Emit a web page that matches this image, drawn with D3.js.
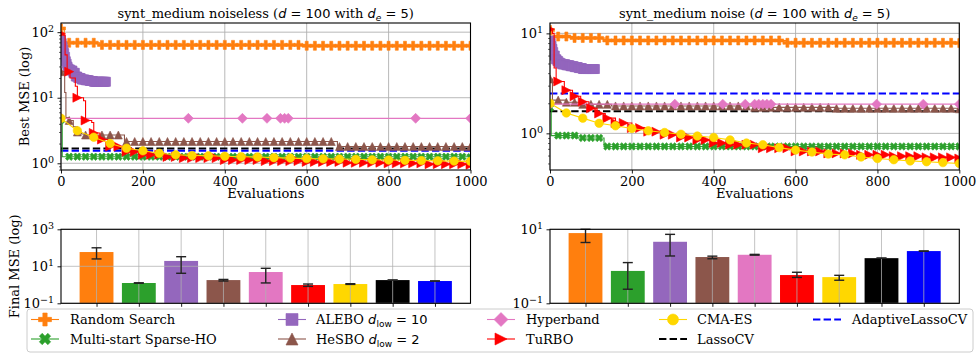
<!DOCTYPE html>
<html lang="en">
<head>
<meta charset="UTF-8">
<title>synt_medium: best MSE and final MSE</title>
<script src="https://d3js.org/d3.v7.min.js"></script>
<style>
  body { margin: 0; background: #fff; }
  svg { display: block; font-family: "DejaVu Serif", serif; }
  text { white-space: pre; }
</style>
</head>
<body>
<div id="chart"></div>
<script>
  // ---- data ----
  const evalTicks = [0, 200, 400, 600, 800, 1000];
  const methods = ["Random Search", "Multi-start Sparse-HO", "ALEBO", "HeSBO", "Hyperband",
    "TuRBO", "CMA-ES", "LassoCV", "AdaptiveLassoCV"];

  // noiseless: [evaluation, best MSE]
  const noiselessRandom = [[0, 114], [8, 69], [95, 64], [600, 62], [1000, 62]];
  const noiselessMulti = [[0, 4.6], [3, 1.26], [1000, 1.24]];
  const noiselessAlebo = [[0, 76], [2, 68], [4, 60], [6, 54], [8, 48], [10, 42], [12, 36], [14, 33],
    [16, 30], [18, 28], [20, 27], [24, 26], [30, 24], [36, 21], [42, 20], [50, 19], [60, 18.5],
    [70, 18], [80, 17.5], [110, 17.5]];
  const noiselessHesbo = [[0, 25], [6, 25], [9, 12], [12, 5], [20, 4.5], [30, 3.6], [40, 3.0],
    [50, 2.8], [60, 2.7], [155, 2.15], [675, 1.8], [1000, 1.8]];
  const noiselessHyper = [[0, 4.85], [311, 4.85], [443, 4.85], [503, 4.85], [536, 4.85], [546, 4.85],
    [555, 4.85], [866, 4.85], [1000, 4.85]];
  const noiselessTurbo = [[0, 95], [5, 90], [10, 45], [15, 25], [22, 20], [35, 15], [40, 10], [55, 9],
    [60, 4.5], [75, 4.2], [80, 2.9], [95, 2.3], [115, 1.8], [150, 1.5], [190, 1.35], [250, 1.25],
    [300, 1.2], [400, 1.12], [500, 1.08], [600, 1.05], [700, 1.02], [800, 1.0], [900, 0.97], [1000, 0.95]];
  const noiselessCma = [[0, 4.85], [40, 3.14], [80, 2.5], [120, 2.0], [160, 1.7], [200, 1.55],
    [240, 1.42], [280, 1.35], [320, 1.32], [360, 1.3], [400, 1.28], [440, 1.26], [480, 1.25],
    [520, 1.22], [560, 1.2], [600, 1.18], [640, 1.17], [680, 1.16], [720, 1.15], [760, 1.13],
    [800, 1.12], [840, 1.11], [880, 1.1], [920, 1.09], [960, 1.08], [1000, 1.07]];
  const noiselessLasso = 1.68;
  const noiselessAdaptive = 1.55;

  // noise
  const noiseRandom = [[0, 10.8], [5, 9.3], [60, 9.0], [140, 8.5], [580, 8.05], [1000, 8.0]];
  const noiseMulti = [[0, 1.8], [3, 0.95], [68, 0.9], [132, 0.74], [1000, 0.74]];
  const noiseAlebo = [[0, 8.5], [2, 8], [4, 7.5], [6, 7], [8, 6.5], [10, 6], [14, 5.5], [18, 5.3],
    [22, 5.1], [26, 5], [30, 4.9], [40, 4.8], [50, 4.7], [60, 4.6], [70, 4.5], [80, 4.4], [110, 4.4]];
  const noiseHesbo = [[0, 3.5], [6, 2.15], [40, 2.05], [80, 1.95], [150, 1.88], [500, 1.82],
    [700, 1.78], [1000, 1.76]];
  const noiseHyper = [[0, 1.96], [305, 1.96], [422, 1.96], [477, 1.96], [500, 1.96], [510, 1.96],
    [520, 1.96], [530, 1.96], [540, 1.96], [798, 1.96], [912, 1.96], [1000, 1.96]];
  const noiseTurbo = [[0, 11], [6, 10], [10, 4.5], [15, 3.3], [35, 2.7], [55, 2.35], [75, 2.07],
    [95, 1.78], [115, 1.58], [135, 1.42], [160, 1.27], [200, 1.13], [240, 1.04], [280, 0.97],
    [320, 0.91], [360, 0.86], [400, 0.8], [440, 0.77], [520, 0.71], [600, 0.66], [670, 0.63],
    [750, 0.61], [830, 0.59], [910, 0.575], [1000, 0.56]];
  const noiseCma = [[0, 2.0], [40, 1.6], [80, 1.42], [120, 1.26], [160, 1.19], [200, 1.12],
    [240, 1.06], [280, 1.02], [320, 0.98], [360, 0.94], [400, 0.91], [440, 0.86], [480, 0.8],
    [520, 0.77], [560, 0.72], [600, 0.68], [640, 0.65], [680, 0.62], [720, 0.61], [760, 0.58],
    [800, 0.56], [840, 0.545], [880, 0.53], [920, 0.52], [960, 0.51], [1000, 0.5]];
  const noiseLasso = 1.66;
  const noiseAdaptive = 2.5;

  // final MSE bars (same order as methods)
  const noiselessFinal = [59, 1.25, 19.5, 1.8, 4.9, 0.97, 1.1, 1.8, 1.6];
  const noiselessLow = [25, 1.22, 4.2, 1.6, 1.26, 0.82, 1.05, 1.8, 1.6];
  const noiselessHigh = [100, 1.28, 33, 1.95, 7.8, 1.1, 1.15, 1.8, 1.6];
  const noiseFinal = [7.9, 0.75, 4.6, 1.78, 2.05, 0.58, 0.51, 1.66, 2.58];
  const noiseLow = [4.4, 0.24, 1.9, 1.6, 2.0, 0.5, 0.42, 1.66, 2.55];
  const noiseHigh = [10, 1.26, 7.3, 1.88, 2.1, 0.69, 0.57, 1.66, 2.6];

  // ---- styles ----
  const colors = ["#ff7f0e", "#2ca02c", "#9467bd", "#8c564b", "#e377c2", "#ff0000", "#ffd700", "#000000", "#0000ff"];
  const markers = ["P", "X", "s", "^", "D", ">", "o"];
  const markerSize = [9, 8, 9, 8, 10, 9, 8.5];
  const markEvery = [20, 20, 2, 20, null, 20, 40];
  const stepped = [true, true, true, true, true, true, false];

  const W = 979, H = 354;
  const topY = [23, 170], botY = [229.3, 303.3];
  const panelsX = [[61, 470.5], [550, 959.3]];
  const serif = "DejaVu Serif", sans = "DejaVu Sans";

  const svg = d3.select("#chart").append("svg")
    .attr("width", W).attr("height", H)
    .attr("font-family", serif);

  function markerPath(type, s) {
    const a = s / 2, t = s / 6;
    switch (type) {
      case "P":
      case "X":
        return `M${-t},${-a}L${t},${-a}L${t},${-t}L${a},${-t}L${a},${t}L${t},${t}L${t},${a}L${-t},${a}L${-t},${t}L${-a},${t}L${-a},${-t}L${-t},${-t}Z`;
      case "s": return `M${-a},${-a}h${s}v${s}h${-s}Z`;
      case "^": return `M0,${-a}L${a},${a}L${-a},${a}Z`;
      case ">": return `M${a},0L${-a},${-a}L${-a},${a}Z`;
      case "D": return `M0,${-a}L${a},0L0,${a}L${-a},0Z`;
      default: return d3.arc()({ innerRadius: 0, outerRadius: a, startAngle: 0, endAngle: 2 * Math.PI });
    }
  }

  function addMarker(g, type, s, color, x, y) {
    g.append("path")
      .attr("d", markerPath(type, s))
      .attr("transform", `translate(${x},${y})` + (type === "X" ? " rotate(45)" : ""))
      .attr("fill", color).attr("stroke", color).attr("stroke-width", 0.6);
  }

  function stepAt(pts, x) {
    let v = pts[0][1];
    for (const p of pts) { if (p[0] <= x) v = p[1]; else break; }
    return v;
  }

  function powLabel(sel, exp) {
    sel.append("tspan").text("10");
    sel.append("tspan").attr("dy", "-0.5em").attr("font-size", 9.5).text(exp < 0 ? "\u2212" + (-exp) : exp);
  }

  function minorTicks(domain) {
    const out = [];
    for (let d = Math.floor(Math.log10(domain[0])); d <= Math.ceil(Math.log10(domain[1])); d++) {
      for (let k = 2; k <= 9; k++) {
        const v = k * Math.pow(10, d);
        if (v >= domain[0] && v <= domain[1]) out.push(v);
      }
    }
    return out;
  }

  function drawYAxis(g, y, x0, majors, minors) {
    g.append("g").attr("transform", `translate(${x0},0)`)
      .call(d3.axisLeft(y).tickValues(minors).tickSize(2).tickFormat(""))
      .call(a => a.select(".domain").remove())
      .selectAll("line").attr("stroke", "#000").attr("stroke-width", 0.6);
    g.append("g").attr("transform", `translate(${x0},0)`)
      .call(d3.axisLeft(y).tickValues(majors).tickSize(3.5).tickFormat(""))
      .call(a => a.select(".domain").remove())
      .selectAll("line").attr("stroke", "#000").attr("stroke-width", 0.9);
    majors.forEach(v => {
      const t = g.append("text")
        .attr("x", x0 - 7).attr("y", y(v)).attr("dy", "0.35em")
        .attr("text-anchor", "end").attr("font-family", serif).attr("font-size", 13).attr("fill", "#000");
      powLabel(t, Math.round(Math.log10(v)));
    });
  }

  function title(g, cx, name) {
    const t = g.append("text").attr("x", cx).attr("y", 18)
      .attr("text-anchor", "middle").attr("font-family", serif).attr("font-size", 13);
    t.append("tspan").attr("font-family", serif).text(name + " (");
    t.append("tspan").attr("font-family", sans).attr("font-style", "italic").text("d");
    t.append("tspan").attr("font-family", sans).text(" = 100");
    t.append("tspan").attr("font-family", serif).text(" with ");
    t.append("tspan").attr("font-family", sans).attr("font-style", "italic").text("d");
    t.append("tspan").attr("font-family", sans).attr("font-style", "italic")
      .attr("font-size", 9).attr("dy", 3).text("e");
    t.append("tspan").attr("font-family", sans).attr("dy", -3).text(" = 5");
    t.append("tspan").attr("font-family", serif).text(")");
  }

  function drawTop(idx, name, series, lasso, adaptive, yDomain, yMajors, showYLabel) {
    const [x0, x1] = panelsX[idx];
    const g = svg.append("g");
    const x = d3.scaleLinear().domain([0, 1000]).range([x0, x1]);
    const y = d3.scaleLog().domain(yDomain).range([topY[1], topY[0]]);

    // grid
    g.append("g").selectAll("line").data(evalTicks).join("line")
      .attr("x1", d => x(d)).attr("x2", d => x(d)).attr("y1", topY[0]).attr("y2", topY[1])
      .attr("stroke", "#b0b0b0").attr("stroke-width", 0.9);
    g.append("g").selectAll("line").data(yMajors).join("line")
      .attr("x1", x0).attr("x2", x1).attr("y1", d => y(d)).attr("y2", d => y(d))
      .attr("stroke", "#b0b0b0").attr("stroke-width", 0.9);

    const clipId = "clip-top-" + idx;
    svg.append("clipPath").attr("id", clipId).append("rect")
      .attr("x", x0).attr("y", topY[0]).attr("width", x1 - x0).attr("height", topY[1] - topY[0]);
    const plot = g.append("g").attr("clip-path", `url(#${clipId})`);

    // dashed baselines
    [[lasso, colors[7]], [adaptive, colors[8]]].forEach(([v, c]) => {
      plot.append("line").attr("x1", x0).attr("x2", x1).attr("y1", y(v)).attr("y2", y(v))
        .attr("stroke", c).attr("stroke-width", 2).attr("stroke-dasharray", "7.4,3.2");
    });

    series.forEach((pts, i) => {
      const line = d3.line().x(d => x(d[0])).y(d => y(d[1]))
        .curve(stepped[i] ? d3.curveStepAfter : d3.curveLinear);
      plot.append("path").attr("d", line(pts)).attr("fill", "none")
        .attr("stroke", colors[i]).attr("stroke-width", 1.1);
      const last = pts[pts.length - 1][0];
      const xs = markEvery[i] ? d3.range(0, last + 0.001, markEvery[i]) : pts.map(p => p[0]);
      const mg = plot.append("g");
      xs.forEach(xv => addMarker(mg, markers[i], markerSize[i], colors[i], x(xv), y(stepAt(pts, xv))));
    });

    // spines
    g.append("rect").attr("x", x0).attr("y", topY[0]).attr("width", x1 - x0).attr("height", topY[1] - topY[0])
      .attr("fill", "none").attr("stroke", "#000").attr("stroke-width", 1.1);

    // axes
    g.append("g").attr("transform", `translate(0,${topY[1]})`)
      .call(d3.axisBottom(x).tickValues(evalTicks).tickSize(3.5).tickPadding(3.5).tickFormat(d3.format("d")))
      .call(a => a.select(".domain").remove())
      .attr("font-family", serif).attr("font-size", 13)
      .call(a => a.selectAll("text").attr("fill", "#000"))
      .call(a => a.selectAll("line").attr("stroke", "#000").attr("stroke-width", 0.9));
    drawYAxis(g, y, x0, yMajors, minorTicks(yDomain));

    g.append("text").attr("x", (x0 + x1) / 2).attr("y", 198).attr("text-anchor", "middle")
      .attr("font-family", serif).attr("font-size", 13).text("Evaluations");
    if (showYLabel) {
      g.append("text").attr("transform", `translate(29,${(topY[0] + topY[1]) / 2}) rotate(-90)`)
        .attr("text-anchor", "middle").attr("font-family", serif).attr("font-size", 13).text("Best MSE (log)");
    }
    title(g, (x0 + x1) / 2, name);
  }

  function drawBars(idx, finals, lows, highs, yDomain, yMajors, showYLabel) {
    const [x0, x1] = panelsX[idx];
    const g = svg.append("g");
    const x = d3.scaleLinear().domain([-0.84, 8.84]).range([x0, x1]);
    const y = d3.scaleLog().domain(yDomain).range([botY[1], botY[0]]);
    const idxs = d3.range(methods.length);

    g.append("g").selectAll("rect").data(finals).join("rect")
      .attr("x", (d, i) => x(i - 0.4)).attr("width", (d, i) => x(i + 0.4) - x(i - 0.4))
      .attr("y", d => y(d)).attr("height", d => botY[1] - y(d))
      .attr("fill", (d, i) => colors[i]);

    // grid over bars
    g.append("g").selectAll("line").data(idxs).join("line")
      .attr("x1", d => x(d)).attr("x2", d => x(d)).attr("y1", botY[0]).attr("y2", botY[1])
      .attr("stroke", "#b0b0b0").attr("stroke-opacity", 0.85).attr("stroke-width", 0.9);
    g.append("g").selectAll("line").data(yMajors).join("line")
      .attr("x1", x0).attr("x2", x1).attr("y1", d => y(d)).attr("y2", d => y(d))
      .attr("stroke", "#b0b0b0").attr("stroke-opacity", 0.85).attr("stroke-width", 0.9);

    // error bars
    const eg = g.append("g").attr("stroke", "#222").attr("stroke-width", 1.4);
    idxs.forEach(i => {
      const cx = x(i);
      eg.append("line").attr("x1", cx).attr("x2", cx).attr("y1", y(lows[i])).attr("y2", y(highs[i]));
      [lows[i], highs[i]].forEach(v => {
        eg.append("line").attr("x1", cx - 5).attr("x2", cx + 5).attr("y1", y(v)).attr("y2", y(v));
      });
    });

    g.append("rect").attr("x", x0).attr("y", botY[0]).attr("width", x1 - x0).attr("height", botY[1] - botY[0])
      .attr("fill", "none").attr("stroke", "#000").attr("stroke-width", 1.1);

    g.append("g").attr("transform", `translate(0,${botY[1]})`)
      .call(d3.axisBottom(x).tickValues(idxs).tickSize(3.5).tickFormat(""))
      .call(a => a.select(".domain").remove())
      .call(a => a.selectAll("line").attr("stroke", "#000").attr("stroke-width", 0.9));
    drawYAxis(g, y, x0, yMajors, []);

    if (showYLabel) {
      g.append("text").attr("transform", `translate(19,${(botY[0] + botY[1]) / 2}) rotate(-90)`)
        .attr("text-anchor", "middle").attr("font-family", serif).attr("font-size", 13).text("Final MSE (log)");
    }
  }

  drawTop(0, "synt_medium noiseless",
    [noiselessRandom, noiselessMulti, noiselessAlebo, noiselessHesbo, noiselessHyper, noiselessTurbo, noiselessCma],
    noiselessLasso, noiselessAdaptive, [0.79, 138], [1, 10, 100], true);
  drawTop(1, "synt_medium noise",
    [noiseRandom, noiseMulti, noiseAlebo, noiseHesbo, noiseHyper, noiseTurbo, noiseCma],
    noiseLasso, noiseAdaptive, [0.43, 12.7], [1, 10], false);

  drawBars(0, noiselessFinal, noiselessLow, noiselessHigh, [0.1, 1000], [0.1, 10, 1000], true);
  drawBars(1, noiseFinal, noiseLow, noiseHigh, [0.1, 10], [0.1, 10], false);

  // ---- legend ----
  const lg = svg.append("g");
  lg.append("rect").attr("x", 27).attr("y", 309).attr("width", 946).attr("height", 43).attr("rx", 3)
    .attr("fill", "#fff").attr("fill-opacity", 0.8).attr("stroke", "#cccccc").attr("stroke-width", 1);
  const colHandle = [45, 292, 501, 673, 827];
  const colText = [70, 316, 526, 697, 852];
  const rowY = [319.5, 339];
  const legendMarker = [13, 12, 12, 12, 14, 12, 11];

  methods.forEach((m, i) => {
    const col = Math.floor(i / 2), row = i % 2;
    const cx = colHandle[col], cy = rowY[row];
    const h = lg.append("g");
    const dashed = i >= 7;
    h.append("line").attr("x1", cx - 14).attr("x2", cx + 14).attr("y1", cy).attr("y2", cy)
      .attr("stroke", colors[i]).attr("stroke-width", dashed ? 2 : 1.1)
      .attr("stroke-dasharray", dashed ? "7.4,3.2" : null);
    if (!dashed) addMarker(h, markers[i], legendMarker[i], colors[i], cx, cy);

    const t = lg.append("text").attr("x", colText[col]).attr("y", cy).attr("dy", "0.35em")
      .attr("font-family", serif).attr("font-size", 13).attr("fill", "#000");
    if (m === "ALEBO" || m === "HeSBO") {
      t.append("tspan").attr("font-family", serif).text(m + " ");
      t.append("tspan").attr("font-family", sans).attr("font-style", "italic").text("d");
      t.append("tspan").attr("font-family", sans).attr("font-size", 9).attr("dy", 3).text("low");
      t.append("tspan").attr("font-family", sans).attr("dy", -3).text(m === "ALEBO" ? " = 10" : " = 2");
    } else {
      t.text(m);
    }
  });
</script>
</body>
</html>
